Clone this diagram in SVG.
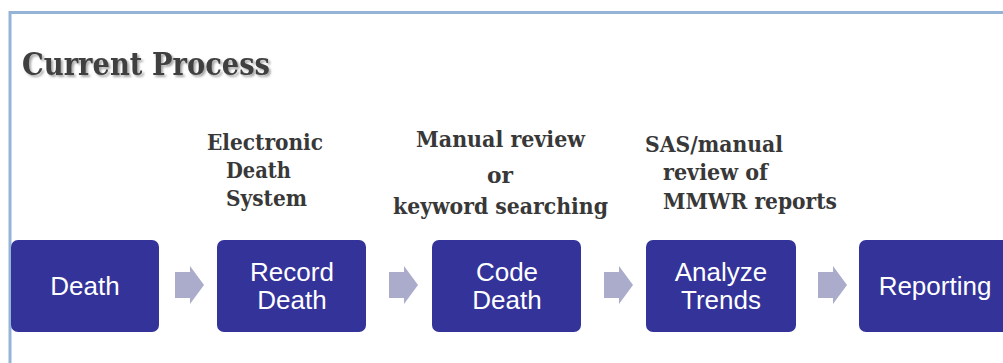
<svg xmlns="http://www.w3.org/2000/svg" width="1003" height="363" viewBox="0 0 1003 363">
<defs>
<style>
.frame{fill:none;stroke:#95B3D7;stroke-width:3}
.box{fill:#333399}
.btxt{font-family:"Liberation Sans",Arial,sans-serif;font-size:26px;fill:#ffffff;text-anchor:middle}
.lbl{font-family:"DejaVu Serif","Liberation Serif",serif;font-weight:bold;font-size:22px;fill:#383838}
.title{font-family:"DejaVu Serif","Liberation Serif",serif;font-weight:bold;font-size:31px;fill:#404040}
.arr{fill:#ABABCC}
</style>
<filter id="sh" x="-5%" y="-20%" width="110%" height="150%">
<feDropShadow dx="2" dy="2" stdDeviation="1.2" flood-color="#000" flood-opacity="0.35"/>
</filter>
<path id="arrow" d="M0,6 H15 V0 L29,19 L15,38 V32 H0 Z"/>
</defs>
<rect width="1003" height="363" fill="#ffffff"/>
<path class="frame" d="M10,363 V12.5 H1003"/>
<text class="title" x="22" y="75" textLength="248" lengthAdjust="spacingAndGlyphs" filter="url(#sh)">Current Process</text>

<g id="labels">
<text class="lbl" x="207" y="150" textLength="116" lengthAdjust="spacingAndGlyphs">Electronic</text>
<text class="lbl" x="226" y="178" textLength="65" lengthAdjust="spacingAndGlyphs">Death</text>
<text class="lbl" x="226" y="206" textLength="81" lengthAdjust="spacingAndGlyphs">System</text>
<text class="lbl" x="416" y="147" textLength="169" lengthAdjust="spacingAndGlyphs">Manual review</text>
<text class="lbl" x="487" y="183" textLength="26" lengthAdjust="spacingAndGlyphs">or</text>
<text class="lbl" x="393" y="214" textLength="215" lengthAdjust="spacingAndGlyphs">keyword searching</text>
<text class="lbl" x="645" y="152" textLength="138" lengthAdjust="spacingAndGlyphs">SAS/manual</text>
<text class="lbl" x="663" y="180" textLength="105" lengthAdjust="spacingAndGlyphs">review of</text>
<text class="lbl" x="663" y="209" textLength="174" lengthAdjust="spacingAndGlyphs">MMWR reports</text>
</g>

<g id="connectors">
<use href="#arrow" class="arr" x="175" y="266"/>
<use href="#arrow" class="arr" x="389" y="266"/>
<use href="#arrow" class="arr" x="604" y="266"/>
<use href="#arrow" class="arr" x="818" y="266"/>
</g>

<g id="n1"><rect class="box" x="11" y="240" width="148" height="92" rx="7"/><text class="btxt" x="85" y="295">Death</text></g>
<g id="n2"><rect class="box" x="217" y="240" width="149" height="92" rx="7"/><text class="btxt" x="292" y="281">Record</text><text class="btxt" x="292" y="309">Death</text></g>
<g id="n3"><rect class="box" x="432" y="240" width="149" height="92" rx="7"/><text class="btxt" x="507" y="281">Code</text><text class="btxt" x="507" y="309">Death</text></g>
<g id="n4"><rect class="box" x="646" y="240" width="150" height="92" rx="7"/><text class="btxt" x="721" y="281">Analyze</text><text class="btxt" x="721" y="309">Trends</text></g>
<g id="n5"><rect class="box" x="859" y="240" width="160" height="92" rx="7"/><text class="btxt" x="935" y="295">Reporting</text></g>
</svg>
